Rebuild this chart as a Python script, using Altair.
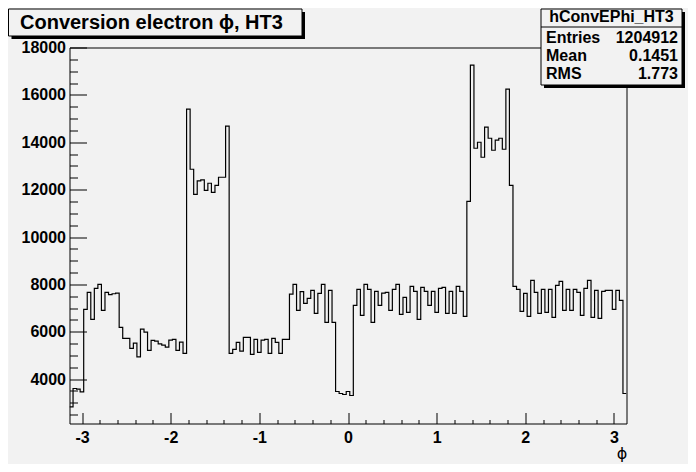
import altair as alt
import numpy as np
import pandas as pd

# ---- data (157 bins over [-pi, pi]) ----
counts = [
    2831, 3606, 3577, 3465, 6944, 7663, 6522, 7832, 8001, 6902,
    7663, 7564, 7606, 7634, 6183, 5719, 5719, 5296, 5521, 4944,
    6113, 5986, 5212, 5634, 5606, 5493, 5437, 5352, 5648, 5676,
    5212, 5564, 5084, 15396, 12860, 11804, 12367, 12410, 11973, 12269,
    11888, 12184, 12522, 12522, 14678, 5084, 5253, 5549, 5183, 5760,
    5760, 5042, 5676, 5127, 5648, 5676, 5084, 5718, 5549, 5084,
    5676, 5676, 7592, 8001, 6902, 7691, 7198, 7409, 7747, 6775,
    7620, 8001, 6395, 7747, 6395, 3479, 3394, 3352, 3479, 3310,
    7113, 7789, 6691, 8001, 7789, 6395, 7705, 7113, 7634, 7663,
    6902, 7789, 8001, 6733, 7451, 6817, 7916, 7704, 6521, 7874,
    7704, 7112, 7704, 6817, 7831, 7874, 6774, 7704, 6774, 7916,
    7704, 6648, 11508, 17255, 13748, 14001, 13367, 14635, 14170, 13663,
    14086, 14170, 13705, 16241, 12184, 7916, 7789, 6859, 7620, 6648,
    8169, 7662, 6774, 7789, 6817, 7789, 6606, 7958, 8127, 6902,
    7789, 6902, 7789, 7663, 6691, 7832, 8170, 6606, 7747, 6564,
    7705, 7747, 7747, 6944, 7747, 7324, 3394,
]
x_range = [-np.pi, np.pi]
y_range = [2128, 18000]

x_major = [-3, -2, -1, 0, 1, 2, 3]
x_minor = [-2.8, -2.6, -2.4, -2.2, -1.8, -1.6, -1.4, -1.2, -0.8, -0.6, -0.4, -0.2,
           0.2, 0.4, 0.6, 0.8, 1.2, 1.4, 1.6, 1.8, 2.2, 2.4, 2.6, 2.8]
y_major = [4000, 6000, 8000, 10000, 12000, 14000, 16000, 18000]
y_minor = [2500, 3000, 3500, 4500, 5000, 5500, 6500, 7000, 7500, 8500, 9000, 9500,
           10500, 11000, 11500, 12500, 13000, 13500, 14500, 15000, 15500,
           16500, 17000, 17500]

title_text = "Conversion electron \u03d5, HT3"
x_title = "\u03d5"
stats_name = "hConvEPhi_HT3"
stats_labels = ["Entries", "Mean", "RMS"]
stats_values = ["1204912", "0.1451", "1.773"]

# ---- build step-line table ----
n = len(counts)
w = (x_range[1] - x_range[0]) / n
edges = [x_range[0] + k * w for k in range(n)] + [x_range[1]]
df = pd.DataFrame({"x": edges, "y": counts + [counts[-1]]})

W, H = 557, 376
BG = "#f2f2f2"
FONT = "Liberation Sans"

xs = alt.Scale(domain=x_range, nice=False, zero=False)
ys = alt.Scale(domain=y_range, nice=False, zero=False)

base = alt.Chart(df)

hist = base.mark_line(interpolate="step-after", color="black", strokeWidth=1.2, clip=True).encode(
    x=alt.X("x:Q", scale=xs, axis=alt.Axis(
        values=x_major, ticks=False, tickSize=0, domain=False, grid=False,
        labelPadding=6, labelFontSize=16, labelFont=FONT, labelFontWeight="bold",
        labelColor="black", labelFlush=False, labelExpr="'' + datum.value",
        title=x_title, titleX=552, titleY=30, titleFontSize=16, titleFont="DejaVu Sans",
        titleFontWeight="normal", titleAlign="center", titleBaseline="middle", titleColor="black")),
    y=alt.Y("y:Q", scale=ys, axis=alt.Axis(
        values=y_major, ticks=False, tickSize=0, domain=False, grid=False,
        labelPadding=4, labelFontSize=16, labelFont=FONT, labelFontWeight="bold",
        labelColor="black", labelFlush=False, labelExpr="'' + datum.value", title=None)),
)

def tick_layer(xv, yv, xlen, ylen):
    return base.mark_line(opacity=0).encode(
        x=alt.X("x:Q", scale=xs, axis=alt.Axis(
            orient="top", offset=-H, values=xv, labels=False, domain=False, grid=False,
            ticks=True, tickSize=xlen, tickColor="black", tickWidth=1, title=None)),
        y=alt.Y("y:Q", scale=ys, axis=alt.Axis(
            orient="right", offset=-W, values=yv, labels=False, domain=False, grid=False,
            ticks=True, tickSize=ylen, tickColor="black", tickWidth=1, title=None)),
    )

major_ticks = tick_layer(x_major, y_major, 11, 17)
minor_ticks = tick_layer(x_minor, y_minor, 4, 8)

one = pd.DataFrame({"a": [0]})

def box(x1, y1, x2, y2):
    shadow = alt.Chart(one).mark_rect(color="black").encode(
        x=alt.value(x1 + 3), x2=alt.value(x2 + 3), y=alt.value(y1 + 3), y2=alt.value(y2 + 3))
    face = alt.Chart(one).mark_rect(fill=BG, stroke="black", strokeWidth=1).encode(
        x=alt.value(x1), x2=alt.value(x2), y=alt.value(y1), y2=alt.value(y2))
    return [shadow, face]

def label(txt, x, y, size, align="left", weight="bold"):
    return alt.Chart(one).mark_text(
        align=align, baseline="middle", font=FONT, fontSize=size, fontWeight=weight, color="black"
    ).encode(x=alt.value(x), y=alt.value(y), text=alt.value(txt))

layers = [hist, major_ticks, minor_ticks]

# title pave
layers += box(-61, -38.5, 232.5, -11.5)
layers.append(label(title_text, -49.5, -24.5, 20))

# stats pave
sx1, sx2, sy1, sy2 = 471.5, 612.5, -38.5, 37.5
layers += box(sx1, sy1, sx2, sy2)
layers.append(label(stats_name, (sx1 + sx2) / 2, -31, 16, align="center"))
layers.append(alt.Chart(one).mark_rule(color="black", strokeWidth=1).encode(
    x=alt.value(sx1), x2=alt.value(sx2), y=alt.value(-20.5)))
for i, (lab, val) in enumerate(zip(stats_labels, stats_values)):
    yy = -9.5 + 18 * i
    layers.append(label(lab, sx1 + 5, yy, 16))
    layers.append(label(val, sx2 - 4, yy, 16, align="right"))

chart = alt.layer(*layers).resolve_axis(x="independent", y="independent").properties(
    width=W, height=H,
    autosize=alt.AutoSizeParams(type="none"),
    padding={"left": 61.5, "top": 39.5, "right": 61.5, "bottom": 40.5},
).configure(background=BG).configure_view(fill=BG, stroke="black", strokeWidth=1)

chart.save("out.html", embed_options={"renderer": "svg", "actions": False})
